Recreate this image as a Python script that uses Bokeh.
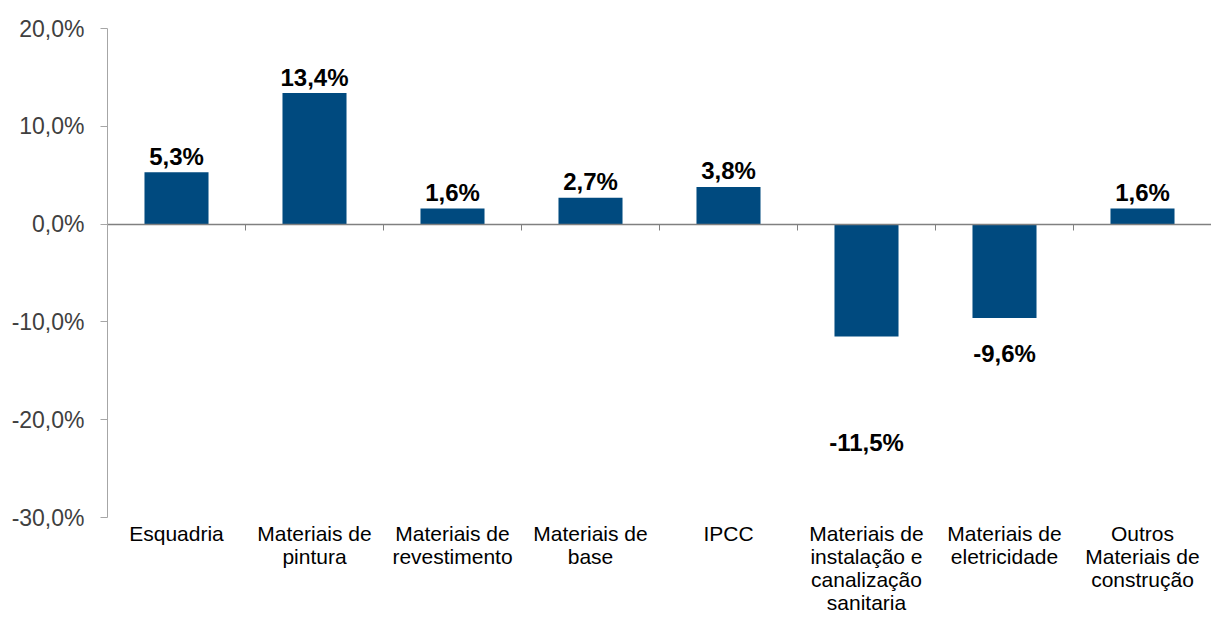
from bokeh.plotting import figure
from bokeh.models import Range1d, LinearAxis, FixedTicker, ColumnDataSource
from bokeh.core.properties import value
from bokeh.embed import file_html
from bokeh.resources import INLINE

categories = [
    "Esquadria",
    "Materiais de\npintura",
    "Materiais de\nrevestimento",
    "Materiais de\nbase",
    "IPCC",
    "Materiais de\ninstalação e\ncanalização\nsanitaria",
    "Materiais de\neletricidade",
    "Outros\nMateriais de\nconstrução",
]
values = [5.3, 13.4, 1.6, 2.7, 3.8, -11.5, -9.6, 1.6]
y_ticks = [-30, -20, -10, 0, 10, 20]
y_tick_labels = ["-30,0%", "-20,0%", "-10,0%", "0,0%", "10,0%", "20,0%"]

FONT = "Liberation Sans"
BAR = "#004A7F"

W, H = 1211, 617
TOP, LEFT = 28, 107
AXIS_PX = 489  # pixel height of the -30..20 axis
ymin, ymax = y_ticks[0], y_ticks[-1]
px_per_unit = AXIS_PX / (ymax - ymin)
y_start = ymax - (H - TOP) / px_per_unit  # extend frame below the axis for category labels

n = len(categories)
centers = [i + 0.5 for i in range(n)]
labels = [("%.1f%%" % v).replace(".", ",") for v in values]
# screen offsets for data labels (the -11,5% label sits far below its bar in the original)
extra = [70 if v == min(values) else 0 for v in values]
offs = [(-16 if v >= 0 else 36 + e) for v, e in zip(values, extra)]

src = ColumnDataSource(dict(x=centers, top=values, lab=labels, off=offs))
csrc = ColumnDataSource(dict(x=centers, y=[ymin] * n, lab=categories))

p = figure(width=W, height=H, x_range=Range1d(0, n), y_range=Range1d(y_start, ymax),
           output_backend="svg", toolbar_location=None,
           x_axis_location=None, y_axis_location=None,
           min_border_left=LEFT, min_border_right=0, min_border_top=TOP, min_border_bottom=0)
p.outline_line_color = None
p.xgrid.visible = False
p.ygrid.visible = False
p.background_fill_color = "white"
p.border_fill_color = "white"

p.vbar(x="x", top="top", bottom=0, width=0.464, source=src, fill_color=BAR, line_color=None)

p.text(x="x", y="top", text="lab", y_offset="off", source=src,
       text_font=value(FONT), text_font_style="bold", text_font_size="24px",
       text_align="center", text_baseline="alphabetic", text_color="black")

# Category labels under the axis
p.text(x="x", y="y", text="lab", source=csrc, y_offset=4,
       text_font=value(FONT), text_font_size="21px", text_color="black",
       text_align="center", text_baseline="top", text_line_height=1.0)

# Y axis
yax = LinearAxis(ticker=FixedTicker(ticks=y_ticks), bounds=(ymin, ymax),
                 major_label_overrides={t: l for t, l in zip(y_ticks, y_tick_labels)})
yax.axis_line_color = "#A6A6A6"
yax.major_tick_line_color = "#A6A6A6"
yax.major_tick_in = 0
yax.major_tick_out = 7
yax.minor_tick_line_color = None
yax.major_label_standoff = 16
yax.major_label_text_font = FONT
yax.major_label_text_font_size = "23px"
yax.major_label_text_color = "#404040"
p.add_layout(yax, "left")

# Zero line with category boundary ticks
zax = LinearAxis(fixed_location=0, ticker=FixedTicker(ticks=list(range(1, n + 1))))
zax.axis_line_color = "#808080"
zax.axis_line_width = 1.5
zax.major_tick_line_color = "#808080"
zax.major_tick_in = 6
zax.major_tick_out = 0
zax.minor_tick_line_color = None
zax.major_label_text_font_size = "0px"
zax.major_label_text_color = None
p.add_layout(zax, "above")

open("out.html", "w").write(file_html(p, INLINE))
